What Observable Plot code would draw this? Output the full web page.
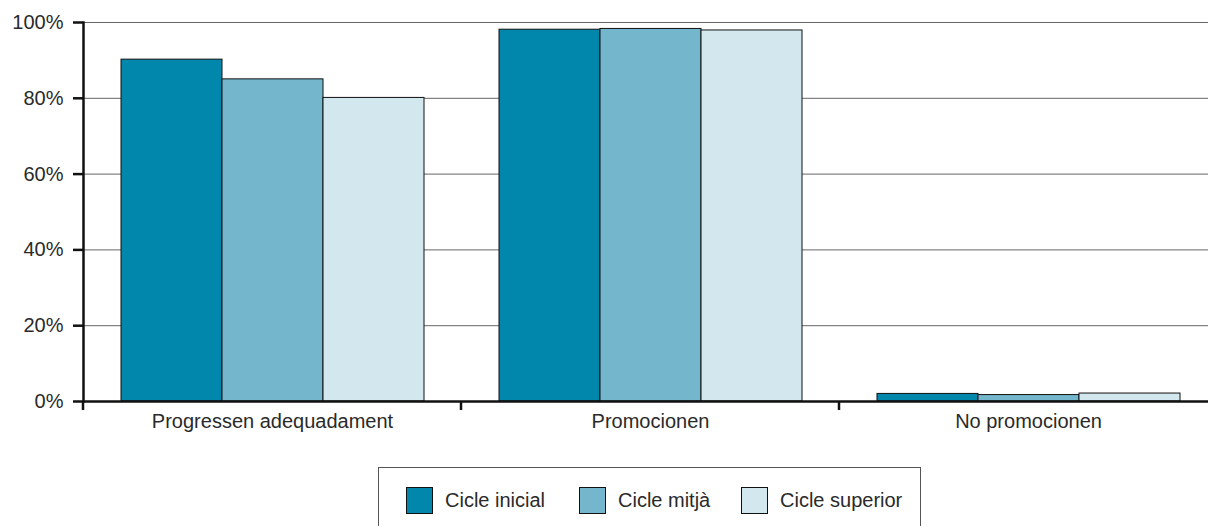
<!DOCTYPE html>
<html>
<head>
<meta charset="utf-8">
<script src="https://cdn.jsdelivr.net/npm/d3@7"></script>
<script src="https://cdn.jsdelivr.net/npm/@observablehq/plot@0.6"></script>
<style>
  html, body { margin: 0; padding: 0; background: #fff; overflow: hidden; width: 1208px; height: 526px; }
  #chart { position: absolute; left: 0; top: 0; width: 1217px; }
  #chart svg { max-width: none !important; }
  #legend {
    position: absolute; left: 378px; top: 467px; width: 541px; height: 80px;
    border: 1px solid #555; box-sizing: content-box;
    font-family: "Liberation Sans", Arial, sans-serif; font-size: 20px; color: #2a2a2a;
  }
  .item { position: absolute; top: 19px; display: flex; align-items: center; }
  .sw { width: 25px; height: 25px; border: 1px solid #111; margin-right: 12px; }
</style>
</head>
<body>
<div id="chart"></div>
<div id="legend"></div>
<script>
const categories = ["Progressen adequadament", "Promocionen", "No promocionen"];
const series = ["Cicle inicial", "Cicle mitjà", "Cicle superior"];
const cicleInicial = [90.2, 98.1, 2.0];
const cicleMitja = [85.0, 98.3, 1.7];
const cicleSuperior = [80.1, 97.9, 2.1];
const colors = ["#0087ab", "#74b7cd", "#d3e7ee"];
const yTicks = [0, 20, 40, 60, 80, 100];

const seriesValues = [cicleInicial, cicleMitja, cicleSuperior];
const data = categories.flatMap((c, i) =>
  series.map((s, j) => ({category: c, series: s, value: seriesValues[j][i]}))
);

const chart = Plot.plot({
  width: 1217,
  height: 440,
  marginLeft: 83,
  marginRight: 0,
  marginTop: 22,
  marginBottom: 39,
  style: {fontFamily: "'Liberation Sans', Arial, sans-serif", fontSize: "20px", color: "#2a2a2a", background: "transparent", overflow: "visible", maxWidth: "none"},
  fx: {domain: categories, paddingInner: 0, paddingOuter: 0, label: null},
  x: {domain: series, paddingInner: 0, paddingOuter: 0.37, axis: null},
  y: {domain: [0, 100], label: null},
  color: {domain: series, range: colors},
  marks: [
    Plot.gridY(yTicks, {stroke: "#666", strokeOpacity: 1, strokeWidth: 1}),
    Plot.barY(data, {fx: "category", x: "series", y: "value", fill: "series", stroke: "#111", strokeWidth: 1}),
    Plot.ruleY([0], {stroke: "#111", strokeWidth: 2.5}),
    Plot.axisY(yTicks, {anchor: "left", tickSize: 10, tickPadding: 10, strokeWidth: 2.5, stroke: "#111", tickFormat: d => d + "%", label: null}),
    Plot.frame({anchor: "left", stroke: "#111", strokeWidth: 2.5, facetAnchor: "left"}),
    Plot.axisFx({anchor: "bottom", tickSize: 0, tickPadding: 12, label: null})
  ]
});
document.getElementById("chart").appendChild(chart);

// category boundary ticks from the fx scale
const fx = chart.scale("fx");
const y = chart.scale("y");
const bounds = [];
categories.forEach(c => { bounds.push(fx.apply(c)); bounds.push(fx.apply(c) + fx.bandwidth); });
const uniq = Array.from(new Set(bounds.map(v => Math.round(v * 100) / 100)));
d3.select(chart).append("g")
  .selectAll("line").data(uniq).join("line")
  .attr("x1", d => d).attr("x2", d => d)
  .attr("y1", y.apply(0)).attr("y2", y.apply(0) + 9)
  .attr("stroke", "#111").attr("stroke-width", 2.5);

// legend
const legend = d3.select("#legend");
const lefts = [27, 200, 362];
series.forEach((s, i) => {
  const it = legend.append("div").attr("class", "item").style("left", lefts[i] + "px");
  it.append("div").attr("class", "sw").style("background", colors[i]);
  it.append("span").text(s);
});
</script>
</body>
</html>
